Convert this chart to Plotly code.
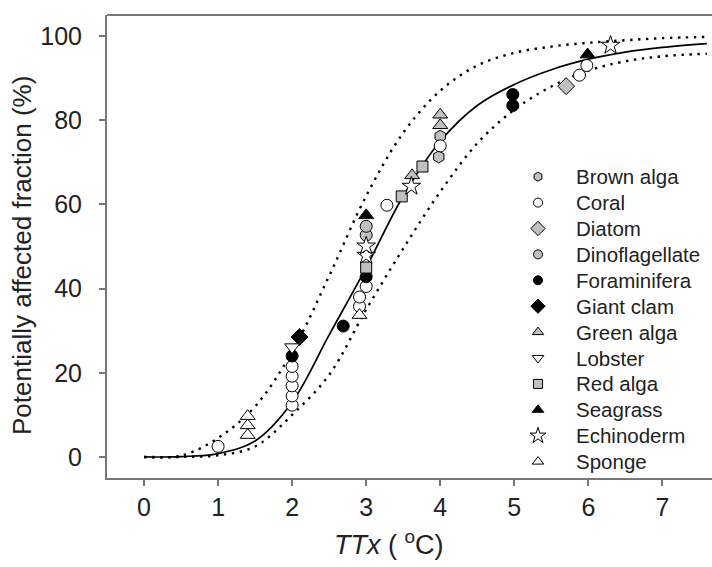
import plotly.graph_objects as go

# ---- data ----
species = ["Brown alga", "Coral", "Diatom", "Dinoflagellate", "Foraminifera", "Giant clam",
           "Green alga", "Lobster", "Red alga", "Seagrass", "Echinoderm", "Sponge"]

brown_x = [3.98, 4.0]
brown_y = [71.3, 76.2]
coral_x = [1.0, 2.0, 2.0, 2.0, 2.0, 2.0, 2.91, 2.91, 3.0, 3.28, 4.0, 5.88, 5.98]
coral_y = [2.5, 12.3, 14.5, 16.9, 19.2, 21.5, 35.8, 38.0, 40.5, 59.8, 73.9, 90.7, 93.0]
diatom_x = [5.70]
diatom_y = [88.1]
dino_x = [3.0, 3.0]
dino_y = [52.7, 54.8]
foram_x = [2.0, 2.69, 3.0, 4.98, 4.98]
foram_y = [24.0, 31.1, 42.8, 86.1, 83.5]
clam_x = [2.1]
clam_y = [28.5]
green_x = [3.62, 4.0, 4.0]
green_y = [66.9, 78.8, 81.3]
lobster_x = [2.0]
lobster_y = [26.1]
red_x = [3.0, 3.48, 3.76]
red_y = [45.0, 61.9, 69.0]
seagrass_x = [3.0, 5.99]
seagrass_y = [57.4, 95.6]
echino_x = [3.0, 3.0, 3.61, 6.30]
echino_y = [47.9, 50.1, 64.3, 97.8]
sponge_x = [1.4, 1.4, 1.4, 2.91]
sponge_y = [5.2, 7.5, 9.7, 33.7]

# fitted curve and confidence band
curve_x = [0, 0.5, 1.0, 1.5, 2.0, 2.5, 3.0, 3.5, 4.0, 4.5, 5.0, 5.5, 6.0, 6.5, 7.0, 7.6]
median_y = [0, 0.1, 0.8, 3.8, 13.0, 29.0, 45.0, 62.0, 75.0, 83.5, 88.5, 92.0, 94.5, 96.2, 97.3, 98.2]
upper_y = [0, 0.3, 4.5, 12.0, 25.0, 43.0, 62.0, 77.0, 87.0, 93.0, 96.0, 97.5, 98.4, 99.0, 99.5, 99.8]
lower_y = [0, 0.0, 0.4, 2.5, 10.0, 19.5, 35.0, 49.5, 63.0, 74.5, 82.5, 88.0, 91.8, 94.0, 95.2, 95.8]

x_ticks = [0, 1, 2, 3, 4, 5, 6, 7]
y_ticks = [0, 20, 40, 60, 80, 100]

# ---- styles ----
GRAY = "#c0c0c0"
series = [
    ("Brown alga", brown_x, brown_y, "hexagon", GRAY),
    ("Coral", coral_x, coral_y, "circle", "white"),
    ("Diatom", diatom_x, diatom_y, "diamond", GRAY),
    ("Dinoflagellate", dino_x, dino_y, "circle", GRAY),
    ("Foraminifera", foram_x, foram_y, "circle", "black"),
    ("Giant clam", clam_x, clam_y, "diamond", "black"),
    ("Green alga", green_x, green_y, "triangle-up", GRAY),
    ("Lobster", lobster_x, lobster_y, "triangle-down", "white"),
    ("Red alga", red_x, red_y, "square", GRAY),
    ("Seagrass", seagrass_x, seagrass_y, "triangle-up", "black"),
    ("Echinoderm", echino_x, echino_y, "star", "white"),
    ("Sponge", sponge_x, sponge_y, "triangle-up", "white"),
]
plot_size = {"hexagon": 12, "circle": 12, "diamond": 13, "triangle-up": 13,
             "triangle-down": 13, "square": 11, "star": 14}
leg_size = {"hexagon": 9, "circle": 9, "diamond": 11, "triangle-up": 10,
            "triangle-down": 10, "square": 9, "star": 12}

FONT = "Liberation Sans, Arial, sans-serif"
TXT = "#222222"
AX = "#777777"

W, H = 712, 567
L, R, T, B = 107, 0, 15, 89
PW, PH = W - L - R, H - T - B


def px_to_paper_x(px):
    return (px - L) / PW


def px_to_paper_y(py):
    return (H - B - py) / PH


fig = go.Figure()

# curves
dot = dict(color="black", width=2.4, dash="2.4px,5.6px", shape="spline")
fig.add_trace(go.Scatter(x=curve_x, y=upper_y, mode="lines", line=dot, showlegend=False, hoverinfo="skip"))
fig.add_trace(go.Scatter(x=curve_x, y=lower_y, mode="lines", line=dot, showlegend=False, hoverinfo="skip"))
fig.add_trace(go.Scatter(x=curve_x, y=median_y, mode="lines", line=dict(color="black", width=1.7, shape="spline"),
                         showlegend=False, hoverinfo="skip"))

# data points
for name, xs, ys, sym, col in series:
    fig.add_trace(go.Scatter(x=xs, y=ys, mode="markers", name=name, showlegend=False,
                             marker=dict(symbol=sym, size=plot_size[sym], color=col,
                                         line=dict(color="black", width=1))))

# legend drawn inside the plot (symbol column + text column)
leg_sym_x = px_to_paper_x(538)
leg_txt_x = px_to_paper_x(574)
row0, row_gap = 176.7, 25.9
for i, (name, xs, ys, sym, col) in enumerate(series):
    yy = px_to_paper_y(row0 + i * row_gap)
    fig.add_trace(go.Scatter(x=[leg_sym_x], y=[yy], xaxis="x2", yaxis="y2", mode="markers",
                             name=name, showlegend=False, hoverinfo="skip",
                             marker=dict(symbol=sym, size=leg_size[sym], color=col,
                                         line=dict(color="black", width=1))))
    fig.add_annotation(text=name, xref="paper", yref="paper", x=leg_txt_x, y=yy,
                       xanchor="left", yanchor="middle", showarrow=False,
                       font=dict(family=FONT, size=20.5, color=TXT))

# axis titles
fig.add_annotation(text="Potentially affected fraction (%)", xref="paper", yref="paper",
                   x=px_to_paper_x(22), y=px_to_paper_y(256), textangle=-90,
                   xanchor="center", yanchor="middle", showarrow=False,
                   font=dict(family=FONT, size=26, color=TXT))
fig.add_annotation(text="<i>TTx</i> ( <sup>o</sup>C)", xref="paper", yref="paper",
                   x=px_to_paper_x(389), y=px_to_paper_y(543),
                   xanchor="center", yanchor="middle", showarrow=False,
                   font=dict(family=FONT, size=27, color=TXT))

fig.update_layout(
    width=W, height=H,
    margin=dict(l=L, r=R, t=T, b=B),
    paper_bgcolor="white", plot_bgcolor="white",
    font=dict(family=FONT, size=25, color=TXT),
    showlegend=False,
    xaxis=dict(range=[-0.5, 7.67], tickvals=x_ticks, ticks="outside", ticklen=6, tickwidth=1.5,
               tickcolor=AX, showline=True, linecolor=AX, linewidth=2, mirror=False,
               showgrid=False, zeroline=False, tickfont=dict(size=25, color=TXT),
               ticklabelstandoff=0),
    yaxis=dict(range=[-5, 105], tickvals=y_ticks, ticks="outside", ticklen=6, tickwidth=1.5,
               tickcolor=AX, showline=True, linecolor=AX, linewidth=2, mirror=False,
               showgrid=False, zeroline=False, tickfont=dict(size=25, color=TXT),
               ticklabelstandoff=12),
    xaxis2=dict(overlaying="x", range=[0, 1], visible=False, fixedrange=True),
    yaxis2=dict(overlaying="y", range=[0, 1], visible=False, fixedrange=True),
)
# top frame line
fig.add_shape(type="line", xref="paper", yref="paper", x0=0, x1=1, y0=1, y1=1,
              line=dict(color=AX, width=2))

fig.write_html("out.html")
